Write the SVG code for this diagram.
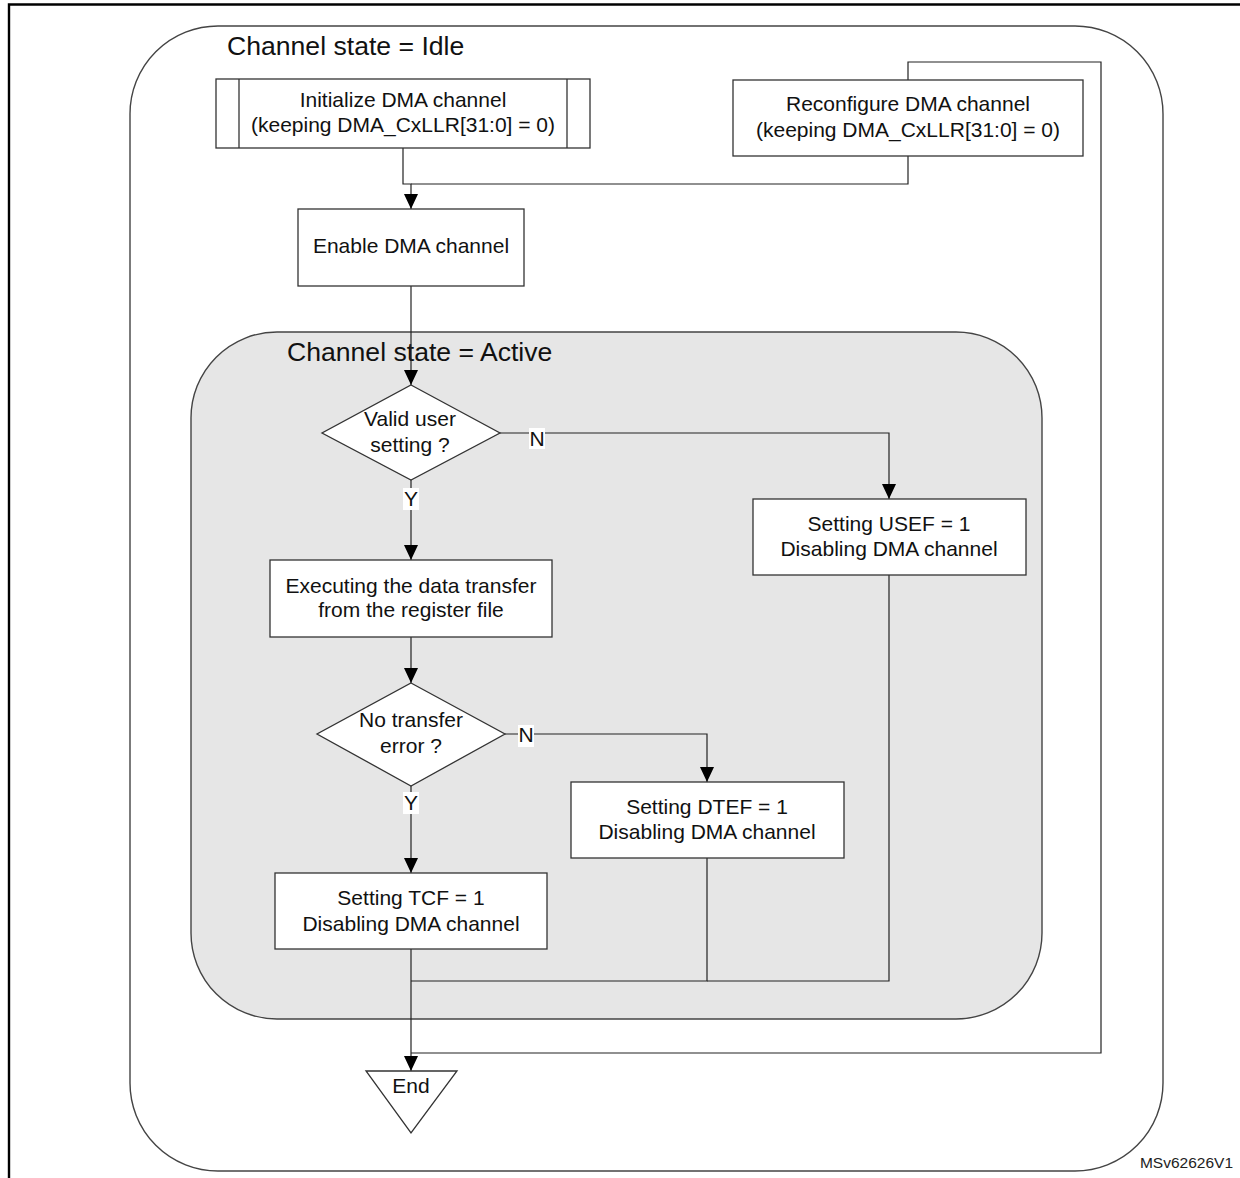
<svg xmlns="http://www.w3.org/2000/svg" width="1240" height="1178" viewBox="0 0 1240 1178">
<defs>
<style>
.frame{fill:none;stroke:#000;stroke-width:2.4}
.state{stroke:#444;stroke-width:1.4}
.box{fill:#fff;stroke:#333;stroke-width:1.3}
.conn{fill:none;stroke:#222;stroke-width:1.2}
.t{font-family:"Liberation Sans",Arial,sans-serif;font-size:21px;fill:#111;text-anchor:middle}
.title{font-family:"Liberation Sans",Arial,sans-serif;font-size:26.6px;fill:#111}
.lblbg{fill:#fff;stroke:none}
</style>
<marker id="arr" markerUnits="userSpaceOnUse" markerWidth="15" markerHeight="14" refX="15" refY="7" orient="auto">
<path d="M0,0 L15,7 L0,14 z" fill="#000"/>
</marker>
</defs>
<rect width="1240" height="1178" fill="#fff"/>
<path class="frame" d="M9,1178 V4.5 H1240"/>

<g id="state-idle">
<rect class="state" x="130" y="26" width="1033" height="1145" rx="88" ry="88" fill="#fff"/>
<text class="title" x="227" y="55">Channel state = Idle</text>
</g>
<g id="state-active">
<rect class="state" x="191" y="332" width="851" height="687" rx="86" ry="86" fill="#e6e6e6"/>
<text class="title" x="287" y="361">Channel state = Active</text>
</g>

<g id="connectors">
<path class="conn" d="M403,148 V184 H411 V209" marker-end="url(#arr)"/>
<path class="conn" d="M908,156 V184 H411"/>
<path class="conn" d="M908,80 V62 H1101 V1053 H411"/>
<path class="conn" d="M411,286 V385" marker-end="url(#arr)"/>
<path class="conn" d="M411,480 V560" marker-end="url(#arr)"/>
<path class="conn" d="M500,433 H889 V499" marker-end="url(#arr)"/>
<path class="conn" d="M411,637 V683" marker-end="url(#arr)"/>
<path class="conn" d="M411,786 V873" marker-end="url(#arr)"/>
<path class="conn" d="M505,734 H707 V782" marker-end="url(#arr)"/>
<path class="conn" d="M411,949 V1071" marker-end="url(#arr)"/>
<path class="conn" d="M707,858 V981 H411"/>
<path class="conn" d="M889,575 V981 H707"/>
<g id="label-n1"><rect class="lblbg" x="529" y="428" width="16" height="21"/><text class="t" x="537" y="446">N</text></g>
<g id="label-y1"><rect class="lblbg" x="403" y="488" width="16" height="22"/><text class="t" x="411" y="506">Y</text></g>
<g id="label-n2"><rect class="lblbg" x="518" y="725" width="16" height="22"/><text class="t" x="526" y="742">N</text></g>
<g id="label-y2"><rect class="lblbg" x="403" y="792" width="16" height="22"/><text class="t" x="411" y="810">Y</text></g>
</g>

<g id="node-init">
<rect class="box" x="216" y="79" width="374" height="69"/>
<line class="box" x1="239" y1="79" x2="239" y2="148"/>
<line class="box" x1="567" y1="79" x2="567" y2="148"/>
<text class="t" x="403" y="107">Initialize DMA channel</text>
<text class="t" x="403" y="132">(keeping DMA_CxLLR[31:0] = 0)</text>
</g>
<g id="node-reconfigure">
<rect class="box" x="733" y="80" width="350" height="76"/>
<text class="t" x="908" y="111">Reconfigure DMA channel</text>
<text class="t" x="908" y="137">(keeping DMA_CxLLR[31:0] = 0)</text>
</g>
<g id="node-enable">
<rect class="box" x="298" y="209" width="226" height="77"/>
<text class="t" x="411" y="253">Enable DMA channel</text>
</g>
<g id="node-valid">
<polygon class="box" points="411,385 500,433 411,480 322,433"/>
<text class="t" x="410" y="426">Valid user</text>
<text class="t" x="410" y="452">setting ?</text>
</g>
<g id="node-usef">
<rect class="box" x="753" y="499" width="273" height="76"/>
<text class="t" x="889" y="531">Setting USEF = 1</text>
<text class="t" x="889" y="556">Disabling DMA channel</text>
</g>
<g id="node-exec">
<rect class="box" x="270" y="560" width="282" height="77"/>
<text class="t" x="411" y="593">Executing the data transfer</text>
<text class="t" x="411" y="617">from the register file</text>
</g>
<g id="node-noerror">
<polygon class="box" points="411,683 505,734 411,786 317,734"/>
<text class="t" x="411" y="727">No transfer</text>
<text class="t" x="411" y="753">error ?</text>
</g>
<g id="node-dtef">
<rect class="box" x="571" y="782" width="273" height="76"/>
<text class="t" x="707" y="814">Setting DTEF = 1</text>
<text class="t" x="707" y="839">Disabling DMA channel</text>
</g>
<g id="node-tcf">
<rect class="box" x="275" y="873" width="272" height="76"/>
<text class="t" x="411" y="905">Setting TCF = 1</text>
<text class="t" x="411" y="931">Disabling DMA channel</text>
</g>
<g id="node-end">
<polygon class="box" points="366,1071 457,1071 411,1133"/>
<text class="t" x="411" y="1093">End</text>
</g>
<text x="1233" y="1168" font-family="Liberation Sans, Arial, sans-serif" font-size="15.5" fill="#222" text-anchor="end">MSv62626V1</text>
</svg>
